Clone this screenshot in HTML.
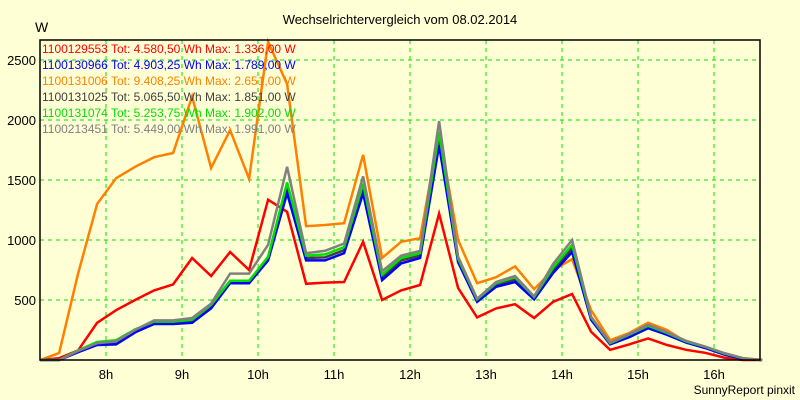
<!DOCTYPE html>
<html><head><meta charset="utf-8"><style>
body{margin:0;background:#ffffd5;}
svg{display:block;font-family:"Liberation Sans",sans-serif;}
</style></head><body>
<svg id="chart" width="800" height="400">
<rect x="0" y="0" width="800" height="400" fill="#ffffd5"/>
<text x="400" y="24" font-size="13" text-anchor="middle" fill="#000">Wechselrichtervergleich vom 08.02.2014</text>
<text x="35" y="32" font-size="14" fill="#000">W</text>
<text x="795" y="394" font-size="12" text-anchor="end" fill="#000">SunnyReport pinxit</text>
<g id="grid"></g>
<g id="series"></g>
<rect x="40" y="40" width="720" height="320" fill="none" stroke="#000" stroke-width="1.5"/>
<g id="axes"></g>
<g id="legend"></g>
</svg>
<script>
const yTicks=[500,1000,1500,2000,2500];
const xTicks=[8,9,10,11,12,13,14,15,16];
const xTickLabels=["8h","9h","10h","11h","12h","13h","14h","15h","16h"];
const seriesNames=["1100129553","1100130966","1100131006","1100131025","1100131074","1100213451"];
const seriesTotals=["4.580,50","4.903,25","9.408,25","5.065,50","5.253,75","5.449,00"];
const seriesMax=["1.336,00","1.789,00","2.651,00","1.851,00","1.902,00","1.991,00"];
const red=[0,15,80,310,415,500,580,630,850,700,900,750,1336,1235,635,645,650,985,500,580,625,1220,600,355,430,465,350,485,550,235,85,130,180,125,85,60,20,0,0];
const blue=[0,0,65,125,130,230,300,300,310,430,640,640,830,1390,830,830,890,1390,665,805,850,1789,815,485,610,650,505,725,900,335,130,190,265,210,145,100,45,10,0];
const orange=[0,58,720,1300,1515,1610,1690,1725,2195,1600,1915,1510,2651,2300,1115,1125,1140,1710,850,985,1015,1900,1000,640,690,780,590,750,840,415,165,225,310,250,150,110,55,15,0];
const dark=[0,0,70,135,140,240,310,310,320,450,655,655,845,1420,850,855,915,1430,690,830,870,1851,830,495,625,670,515,750,930,345,135,200,275,215,150,105,50,12,0];
const green=[0,0,80,150,165,255,320,320,335,460,660,660,860,1480,870,880,940,1470,710,850,890,1902,845,505,640,690,525,770,960,355,140,210,285,225,155,110,55,15,0];
const gray=[0,0,75,140,155,250,330,330,350,470,720,720,960,1610,890,910,970,1530,740,870,910,1991,860,510,650,700,530,800,1000,360,145,215,295,230,160,112,58,15,0];
const seriesData=[red,blue,orange,dark,green,gray];
const colors=["#ff0000","#0000ff","#ff8000","#404040","#00e000","#808080"];
const t0=7+8/60, step=0.25;
const X=t=>40+(t-7.1316)*76;
const Y=v=>360-v*0.12;
const ns="http://www.w3.org/2000/svg";
function mk(tag,attrs,parent){const e=document.createElementNS(ns,tag);for(const k in attrs)e.setAttribute(k,attrs[k]);parent.appendChild(e);return e;}
const grid=document.getElementById('grid'),axes=document.getElementById('axes'),sg=document.getElementById('series'),lg=document.getElementById('legend');
yTicks.forEach(v=>{
 const l=mk('line',{x1:40,x2:760,y1:Y(v),y2:Y(v),stroke:"#00e000","stroke-dasharray":"4,4"},grid);
 
 
 const t=mk('text',{x:36,y:Y(v)+5,"font-size":13,"text-anchor":"end",fill:"#000"},axes);
 t.textContent=v;
 
 
});
xTicks.forEach((h,i)=>{
 const l=mk('line',{x1:X(h),x2:X(h),y1:40,y2:360,stroke:"#00e000","stroke-dasharray":"4,4"},grid);
 
 
 const t=mk('text',{x:X(h),y:379,"font-size":13,"text-anchor":"middle",fill:"#000"},axes);
 t.textContent=xTickLabels[i];
 
 
});
const order=[2,0,3,1,4,5];
order.forEach(s=>{
 const pts=seriesData[s].map((v,i)=>X(t0+i*step).toFixed(1)+","+Y(v).toFixed(1)).join(" ");
 const p=mk('polyline',{points:pts,fill:"none",stroke:colors[s],"stroke-width":2.5,"stroke-linejoin":"miter"},sg);
 
 
});
seriesNames.forEach((n,i)=>{
 const t=mk('text',{x:42,y:53+i*16,"font-size":12,fill:colors[i]},lg);
 t.textContent=n+" Tot: "+seriesTotals[i]+" Wh Max: "+seriesMax[i]+" W";
 
 
});
</script>
</body></html>
